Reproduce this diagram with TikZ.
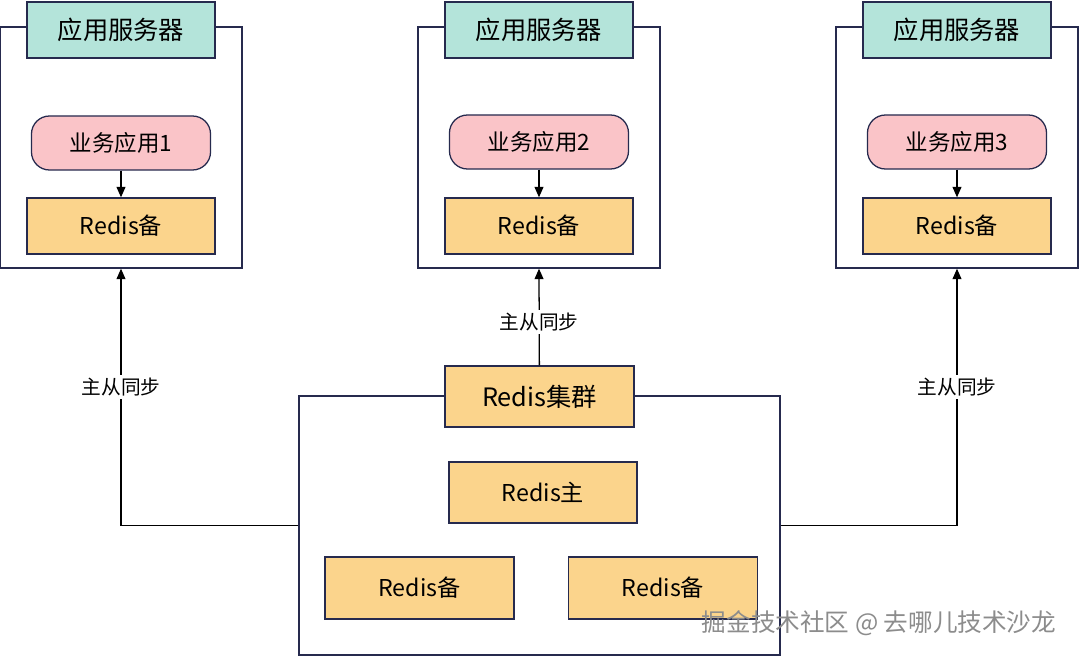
\documentclass[tikz,border=0pt]{standalone}
\usepackage{fontspec}
\setmainfont{Noto Sans CJK SC}
\usetikzlibrary{arrows.meta}
\definecolor{hdrteal}{RGB}{180,228,218}
\definecolor{apppink}{RGB}{250,196,200}
\definecolor{redisyel}{RGB}{251,212,140}
\definecolor{edgenavy}{RGB}{38,42,78}
\tikzset{every node/.style={draw=edgenavy,line width=0.9pt,inner sep=0pt}}
\tikzset{frame/.style={rectangle,fill=white}}
\tikzset{hdr/.style={rectangle,fill=hdrteal,minimum width=4.7cm,minimum height=1.4cm,font=\fontsize{18}{20}\selectfont}}
\tikzset{app/.style={rectangle,rounded corners=0.45cm,fill=apppink,minimum width=4.475cm,minimum height=1.35cm,font=\fontsize{16}{18}\selectfont}}
\tikzset{rds/.style={rectangle,fill=redisyel,minimum width=4.7cm,minimum height=1.4cm,font=\fontsize{16.5}{19}\selectfont}}
\tikzset{t/.style={draw=none,fill=white,inner sep=2pt,font=\fontsize{14}{16}\selectfont}}
\tikzset{sync/.style={-{Triangle[length=2.6mm,width=2.2mm]},line width=0.9pt}}

\begin{document}
\begin{tikzpicture}[x=0.025cm,y=-0.025cm]
      \useasboundingbox[fill=white] (0,0) rectangle (1080,656);
      % application servers
      \node[frame,minimum width=6.05cm,minimum height=6.025cm] (s1) at (121,147.5) {};
      \node[frame,minimum width=6.05cm,minimum height=6.025cm] (s2) at (539,147.5) {};
      \node[frame,minimum width=6.05cm,minimum height=6.025cm] (s3) at (957,147.5) {};
      \node[hdr] (h1) at (121,30) {应用服务器};
      \node[hdr] (h2) at (539,30) {应用服务器};
      \node[hdr] (h3) at (957,30) {应用服务器};
      \node[app] (a1) at (121,143) {业务应用1};
      \node[app] (a2) at (539,142) {业务应用2};
      \node[app] (a3) at (957,142) {业务应用3};
      \node[rds] (b1) at (121,226) {Redis备};
      \node[rds] (b2) at (539,226) {Redis备};
      \node[rds] (b3) at (957,226) {Redis备};
        \draw[sync] (a1) -- (b1);
        \draw[sync] (a2) -- (b2);
        \draw[sync] (a3) -- (b3);
      % redis cluster
      \node[frame,minimum width=12.025cm,minimum height=6.475cm] (c) at (539.5,525.5) {};
      \node[rds,minimum width=4.725cm,minimum height=1.525cm,font=\fontsize{18}{20}\selectfont] (ch) at (539.5,396.5) {Redis集群};
      \node[rds,minimum height=1.525cm] (m) at (543,492.5) {Redis主};
      \node[rds,minimum width=4.725cm,minimum height=1.55cm] (r1) at (419.5,588) {Redis备};
      \node[rds,minimum width=4.725cm,minimum height=1.55cm] (r2) at (663,588) {Redis备};
        \draw[sync] (c.west) -| node[t,pos=0.77] {主从同步} (s1.south);
        \draw[sync] (ch) -- node[t,pos=0.45] {主从同步} (s2.south);
        \draw[sync] (c.east) -| node[t,pos=0.77] {主从同步} (s3.south);
      \node[draw=none,text=black!45,font=\fontsize{17.5}{20}\selectfont] (wm) at (879,623) {掘金技术社区 @ 去哪儿技术沙龙};
    \end{tikzpicture}
\end{document}
